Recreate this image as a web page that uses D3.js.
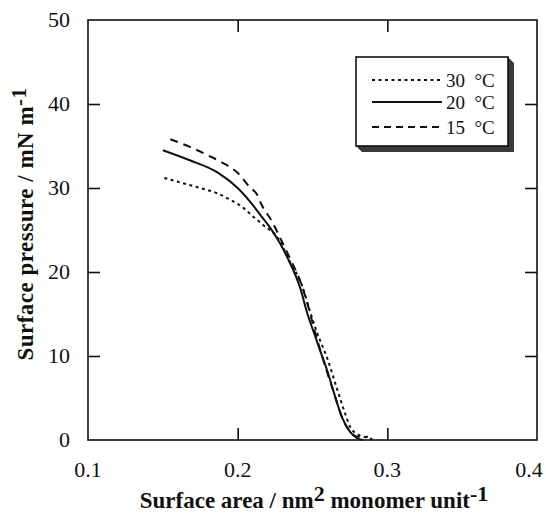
<!DOCTYPE html>
<html>
<head>
<meta charset="utf-8">
<script src="https://cdn.jsdelivr.net/npm/d3@7"></script>
<style>
  body { margin: 0; background: #fff; }
  text { font-family: 'Liberation Serif', 'Times New Roman', serif; fill: #111; }
</style>
</head>
<body>
<svg id="chart" width="546" height="515"></svg>
<script>
const xTicks = [0.1, 0.2, 0.3, 0.4];
const yTicks = [0, 10, 20, 30, 40, 50];

const series = ['30  °C', '20  °C', '15  °C'];

// [area nm2, pressure mN/m]
const curve30 = [
  [0.151, 31.2], [0.163, 30.6], [0.175, 30.0], [0.186, 29.4], [0.195, 28.6],
  [0.204, 27.6], [0.211, 26.5], [0.217, 25.6], [0.227, 24.0], [0.235, 21.2],
  [0.243, 18.4], [0.248, 15.5], [0.253, 12.8], [0.2603, 9.5], [0.266, 6.3],
  [0.2717, 3.2], [0.275, 1.6], [0.280, 0.7], [0.285, 0.35], [0.290, 0.1]
];
const curve20 = [
  [0.150, 34.5], [0.168, 33.3], [0.187, 31.8], [0.200, 30.0], [0.210, 28.0],
  [0.216, 26.6], [0.222, 25.2], [0.228, 23.5], [0.233, 21.8], [0.2416, 18.2],
  [0.247, 14.8], [0.2503, 13.1], [0.255, 10.7], [0.2603, 8.0], [0.2637, 6.0],
  [0.2697, 2.7], [0.275, 1.0], [0.280, 0.2], [0.284, 0]
];
const curve15 = [
  [0.155, 35.8], [0.168, 34.9], [0.180, 33.9], [0.190, 33.0], [0.200, 31.8],
  [0.208, 30.1], [0.213, 29.2], [0.216, 28.0], [0.223, 26.0], [0.228, 24.2],
  [0.235, 21.6], [0.2416, 19.0], [0.247, 16.0], [0.251, 13.3], [0.256, 10.2],
  [0.261, 7.4], [0.265, 5.2], [0.270, 2.6], [0.275, 1.0], [0.280, 0.4], [0.287, 0.4]
];

const curves = [curve30, curve20, curve15];
const dashes = ['3,3.5', null, '8,6'];
const legendDashes = ['3,3.5', null, '7,5'];

const margin = { left: 88, right: 537, top: 20, bottom: 440 };
const tickLen = 12;

const svg = d3.select('#chart');

const x = d3.scaleLinear().domain([0.1, 0.4]).range([margin.left, margin.right]);
const y = d3.scaleLinear().domain([0, 50]).range([margin.bottom, margin.top]);

// frame
svg.append('rect')
  .attr('x', margin.left).attr('y', margin.top)
  .attr('width', margin.right - margin.left)
  .attr('height', margin.bottom - margin.top)
  .attr('fill', 'none').attr('stroke', '#111').attr('stroke-width', 1.6);

// inward ticks on all four sides
const innerX = xTicks.slice(1, -1);
const innerY = yTicks.slice(1, -1);

svg.append('g')
  .attr('transform', `translate(0,${margin.bottom})`)
  .call(d3.axisBottom(x).tickValues(innerX).tickSizeInner(-tickLen).tickSizeOuter(0).tickFormat(''))
  .call((g) => g.select('.domain').remove());
svg.append('g')
  .attr('transform', `translate(0,${margin.top})`)
  .call(d3.axisTop(x).tickValues(innerX).tickSizeInner(-tickLen).tickSizeOuter(0).tickFormat(''))
  .call((g) => g.select('.domain').remove());
svg.append('g')
  .attr('transform', `translate(${margin.left},0)`)
  .call(d3.axisLeft(y).tickValues(innerY).tickSizeInner(-tickLen).tickSizeOuter(0).tickFormat(''))
  .call((g) => g.select('.domain').remove());
svg.append('g')
  .attr('transform', `translate(${margin.right},0)`)
  .call(d3.axisRight(y).tickValues(innerY).tickSizeInner(-tickLen).tickSizeOuter(0).tickFormat(''))
  .call((g) => g.select('.domain').remove());

svg.selectAll('.tick line').attr('stroke', '#111').attr('stroke-width', 1.6);

// tick labels (last one nudged in so it stays on the page)
svg.append('g')
  .selectAll('text')
  .data(xTicks)
  .join('text')
  .attr('x', (d) => Math.min(x(d), 529))
  .attr('y', 477)
  .attr('text-anchor', 'middle')
  .attr('font-size', 22)
  .text((d) => d3.format('.1f')(d));

svg.append('g')
  .selectAll('text')
  .data(yTicks)
  .join('text')
  .attr('x', 70)
  .attr('y', (d) => y(d) + 7)
  .attr('text-anchor', 'end')
  .attr('font-size', 22)
  .text((d) => d);

// axis titles
const xTitle = svg.append('text')
  .attr('x', 314).attr('y', 508)
  .attr('text-anchor', 'middle')
  .attr('font-size', 23).attr('font-weight', 'bold');
xTitle.append('tspan').text('Surface area / nm');
xTitle.append('tspan').attr('dy', -7).attr('font-size', 22).text('2');
xTitle.append('tspan').attr('dy', 7).text(' monomer unit');
xTitle.append('tspan').attr('dy', -7).attr('font-size', 22).text('-1');

const yTitle = svg.append('text')
  .attr('transform', 'translate(33,224) rotate(-90)')
  .attr('text-anchor', 'middle')
  .attr('font-size', 23).attr('font-weight', 'bold')
  .attr('letter-spacing', 0.5);
yTitle.append('tspan').text('Surface pressure / mN m');
yTitle.append('tspan').attr('dy', -7).attr('font-size', 21).text('-1');

// curves
const line = d3.line()
  .x((d) => x(d[0]))
  .y((d) => y(d[1]))
  .curve(d3.curveMonotoneX);

svg.append('g')
  .selectAll('path')
  .data(curves)
  .join('path')
  .attr('d', line)
  .attr('fill', 'none')
  .attr('stroke', '#111')
  .attr('stroke-width', 2)
  .attr('stroke-dasharray', (d, i) => dashes[i]);

// legend with drop shadow
const lg = { x0: 356, y0: 57, x1: 508, y1: 146, off: 6 };
svg.append('polygon')
  .attr('points', [
    [lg.x1, lg.y0], [lg.x1 + lg.off, lg.y0 + lg.off], [lg.x1 + lg.off, lg.y1 + lg.off],
    [lg.x0 + lg.off, lg.y1 + lg.off], [lg.x0, lg.y1], [lg.x1, lg.y1]
  ].map((p) => p.join(',')).join(' '))
  .attr('fill', '#3a3a3a');
svg.append('rect')
  .attr('x', lg.x0).attr('y', lg.y0)
  .attr('width', lg.x1 - lg.x0).attr('height', lg.y1 - lg.y0)
  .attr('fill', '#fff').attr('stroke', '#111').attr('stroke-width', 1.6);

const rowY = [80, 102, 127];
const legendRow = svg.append('g')
  .selectAll('g')
  .data(series)
  .join('g')
  .attr('transform', (d, i) => `translate(0,${rowY[i]})`);
legendRow.append('line')
  .attr('x1', 372).attr('x2', 442)
  .attr('stroke', '#111').attr('stroke-width', 1.8)
  .attr('stroke-dasharray', (d, i) => legendDashes[i]);
legendRow.append('text')
  .attr('x', 446).attr('y', 7)
  .attr('font-size', 19)
  .attr('xml:space', 'preserve')
  .style('white-space', 'pre')
  .text((d) => d);
</script>
</body>
</html>
